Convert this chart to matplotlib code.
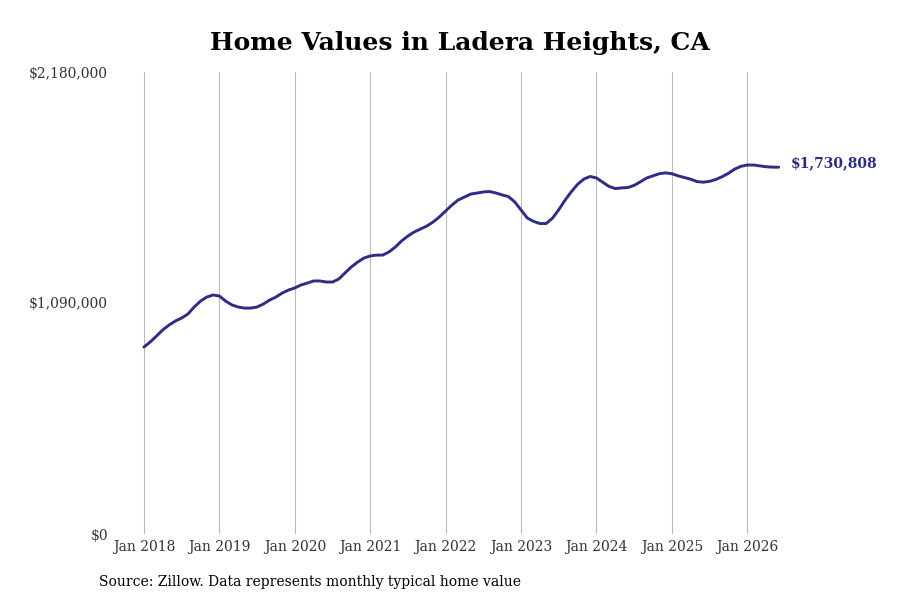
import numpy as np
import matplotlib
matplotlib.use("Agg")
import matplotlib.pyplot as plt

# monthly typical home value, Jan 2018 .. Jun 2026
values = [
    882000, 906000, 934000, 963000, 986000, 1005000, 1019000, 1038000, 1071000, 1099000, 1118000, 1128000,
    1123000, 1099000, 1081000, 1071000, 1066000, 1066000, 1071000, 1085000, 1104000, 1118000, 1137000, 1151000,
    1161000, 1175000, 1184000, 1194000, 1194000, 1189000, 1189000, 1203000, 1232000, 1260000, 1283000, 1302000,
    1312000, 1316000, 1316000, 1331000, 1354000, 1383000, 1406000, 1425000, 1439000, 1453000, 1472000, 1496000,
    1524000, 1552000, 1576000, 1590000, 1604000, 1609000, 1614000, 1616000, 1609000, 1600000, 1592000, 1567000,
    1529000, 1491000, 1475000, 1465000, 1465000, 1490000, 1530000, 1575000, 1615000, 1650000, 1675000, 1687000,
    1680000, 1660000, 1640000, 1630000, 1633000, 1635000, 1645000, 1662000, 1680000, 1690000, 1700000, 1704000,
    1700000, 1690000, 1682000, 1674000, 1663000, 1660000, 1664000, 1673000, 1686000, 1702000, 1722000, 1735000,
    1741000, 1741000, 1737000, 1733000, 1731000, 1730808,
]
tick_labels = ["Jan 2018", "Jan 2019", "Jan 2020", "Jan 2021", "Jan 2022",
               "Jan 2023", "Jan 2024", "Jan 2025", "Jan 2026"]
y_ticks = [0, 1090000, 2180000]
last_label = "$1,730,808"

line_color = "#2d2c86"
plt.rcParams["font.family"] = ["DejaVu Serif"]

months = np.arange(len(values))

fig = plt.figure(figsize=(9, 6), dpi=100)
ax = fig.add_axes([115 / 900, 66 / 600, 670 / 900, 462 / 600])

ax.plot(months, values, color=line_color, linewidth=2.1, solid_capstyle="round")

ax.set_xlim(-4.6, 102.0)
ax.set_ylim(0, 2180000)
ax.set_xticks(np.arange(0, 97, 12))
ax.set_xticklabels(tick_labels, fontsize=10, color="#333333")
ax.set_yticks(y_ticks)
ax.set_yticklabels(["${:,.0f}".format(v) for v in y_ticks], fontsize=10, color="#333333")
ax.tick_params(axis="both", length=0)
ax.tick_params(axis="x", pad=4)
ax.tick_params(axis="y", pad=5)
ax.grid(axis="x", color="#bbbbbb", linewidth=0.8)
ax.set_axisbelow(True)
for s in ax.spines.values():
    s.set_visible(False)

ax.annotate(last_label, xy=(months[-1], values[-1]), xytext=(9, 3),
            textcoords="offset points", color=line_color, fontsize=10,
            fontweight="bold", va="center", ha="left", annotation_clip=False)

fig.text(460 / 900, 1 - 43 / 600, "Home Values in Ladera Heights, CA",
         ha="center", va="center", fontsize=18, fontweight="bold")
fig.text(99 / 900, 1 - 582 / 600, "Source: Zillow. Data represents monthly typical home value",
         ha="left", va="center", fontsize=10)

fig.savefig("out.png", dpi=100)
